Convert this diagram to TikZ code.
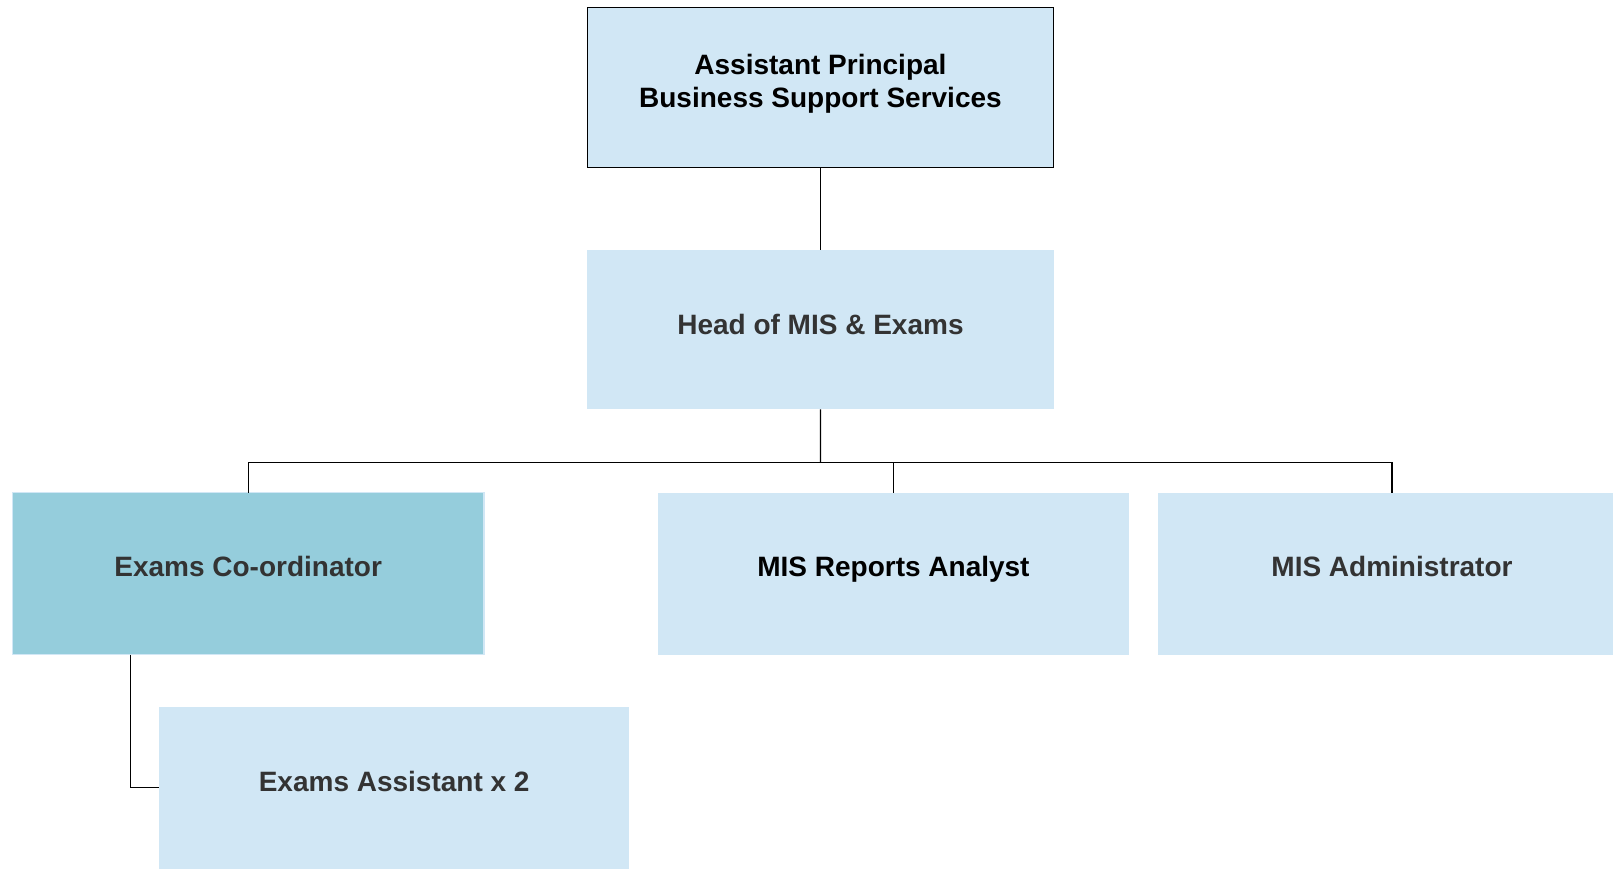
\documentclass[tikz,border=0pt]{standalone}
\usepackage{fontspec}
\setmainfont{Liberation Sans}
\definecolor{lightbox}{RGB}{209,231,245}
\definecolor{darkbox}{RGB}{149,205,220}
\definecolor{txtgray}{RGB}{51,51,51}
\begin{document}
\begin{tikzpicture}[x=1pt,y=-1pt,
  pbox/.style={fill=lightbox, draw=none, inner sep=0pt, outer sep=0pt, anchor=north west},
  lbl/.style={font=\fontsize{28}{33}\selectfont\bfseries, anchor=base, inner sep=0pt, align=center},
  conn/.style={draw=black, line width=1.3pt}]
\useasboundingbox (0,0) rectangle (1613,869);
\clip (0,0) rectangle (1613,869);
\fill[white] (0,0) rectangle (1613,869);
% boxes
\node[pbox, draw=black, line width=1.3pt, minimum width=466.1pt, minimum height=160pt] (ap) at (587.4,7.3) {};
\node[pbox, minimum width=466.1pt, minimum height=159.4pt] (head) at (587.4,250) {};
\node[pbox, fill=darkbox, draw=lightbox, line width=1.5pt, minimum width=471.7pt, minimum height=162pt] (coord) at (12.3,492.5) {};
\node[pbox, minimum width=470.1pt, minimum height=162pt] (rep) at (658.4,492.5) {};
\node[pbox, minimum width=467.4pt, minimum height=162pt] (adm) at (1158.3,492.5) {};
\node[pbox, minimum width=469.6pt, minimum height=162pt] (asst) at (159.4,706.7) {};
% texts
\node[lbl, text=black] (apt) at ([yshift=-100.5pt]ap.north) {Assistant Principal\\Business Support Services};
\node[lbl, text=txtgray] (headt) at ([yshift=-84.5pt]head.north) {Head of MIS \& Exams};
\node[lbl, text=txtgray] (coordt) at ([yshift=-84.2pt]coord.north) {Exams Co-ordinator};
\node[lbl, text=black] (rept) at ([yshift=-84.2pt]rep.north) {MIS Reports Analyst};
\node[lbl, text=txtgray] (admt) at ([yshift=-84.2pt]adm.north) {MIS Administrator};
\node[lbl, text=txtgray] (asstt) at ([yshift=-85pt]asst.north) {Exams Assistant x 2};
% connectors
\coordinate (bar) at (820.4,462.7);
\draw[conn] (ap.south) -- (head.north);
\draw[conn] (head.south) -- (bar);
\draw[conn] (bar) -| (coord.north);
\draw[conn] (bar) -| (rep.north);
\draw[conn] (bar) -| (adm.north);
\coordinate (cdrop) at ([xshift=118.4pt]coord.south west);
\draw[conn] (cdrop) |- (asst.west);
\end{tikzpicture}
\end{document}
